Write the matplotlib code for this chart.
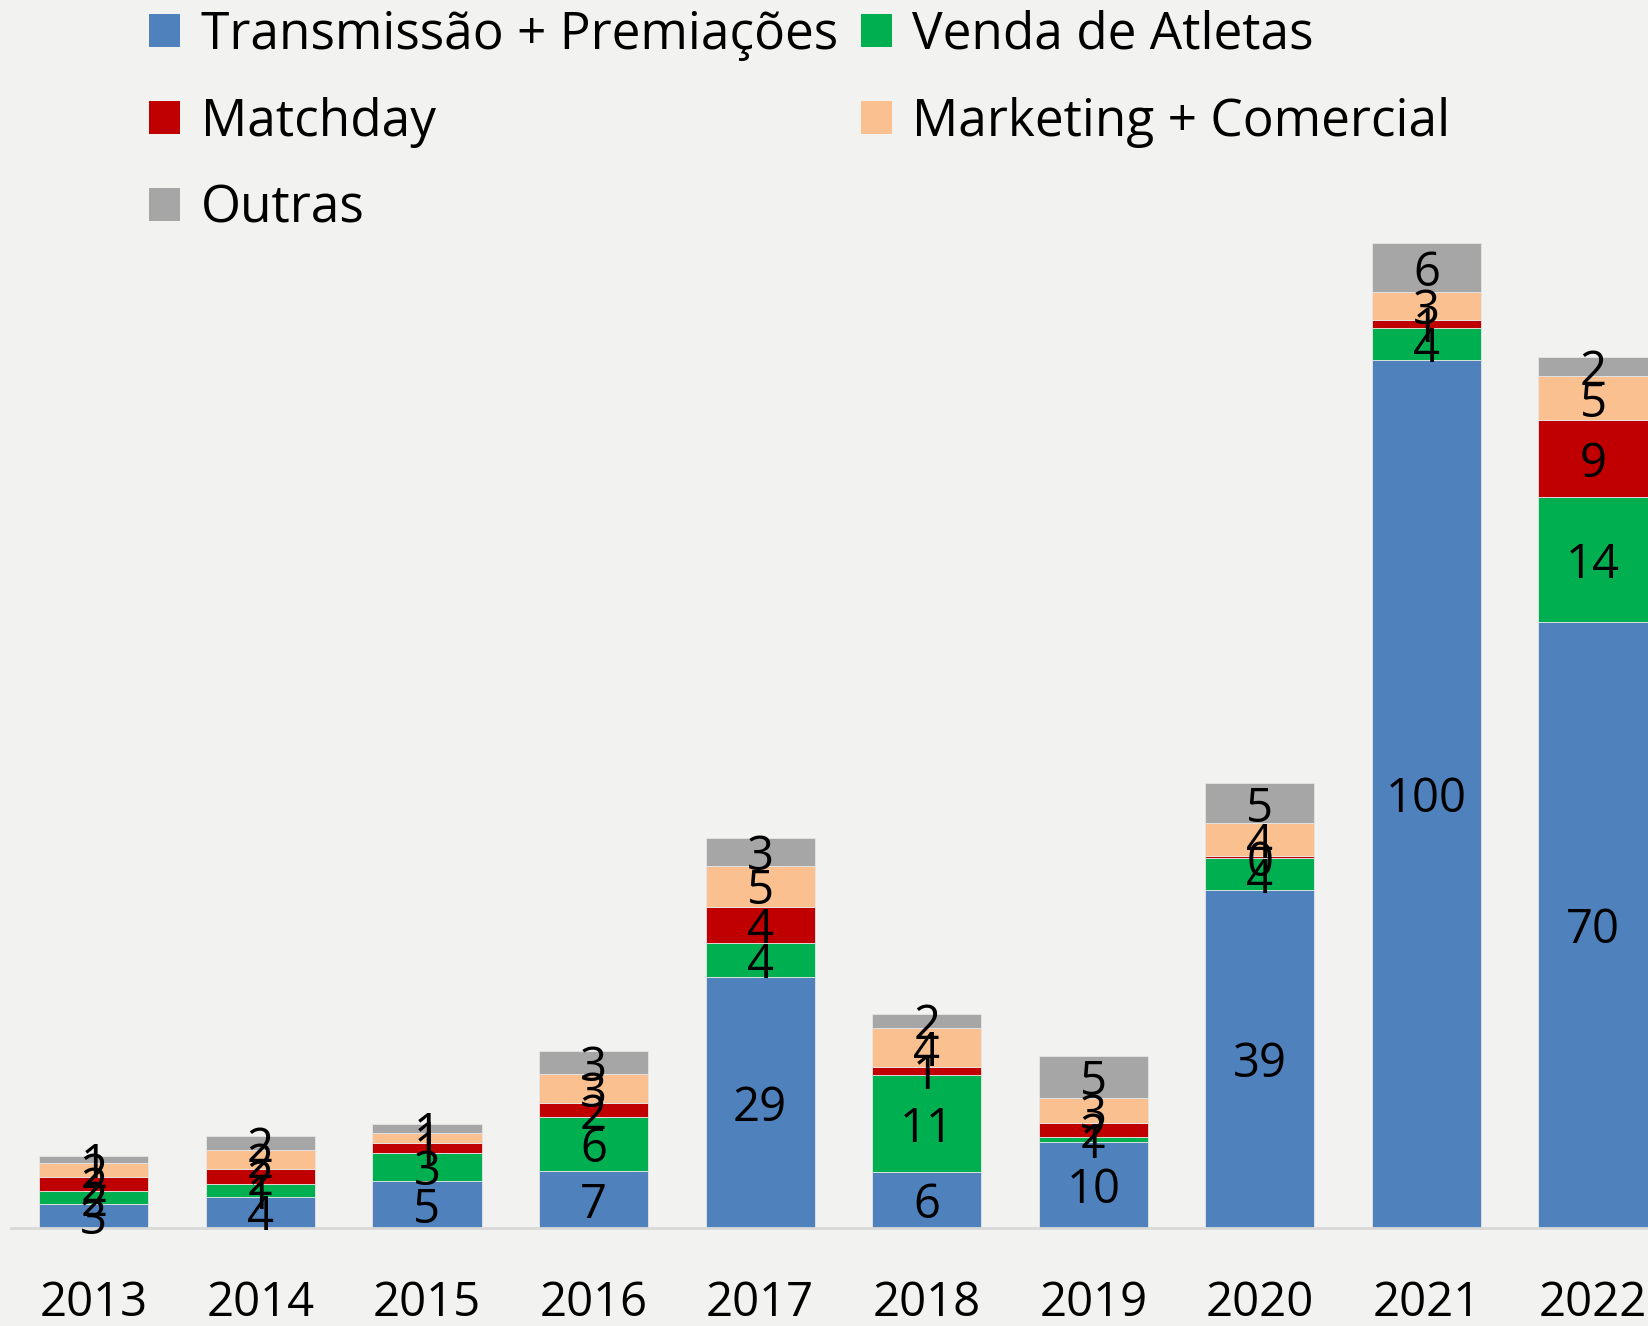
import numpy as np
import matplotlib
matplotlib.use("Agg")
import matplotlib.pyplot as plt
from matplotlib.patches import Patch

plt.rcParams['font.family'] = ['Open Sans', 'DejaVu Sans']

anos = ['2013', '2014', '2015', '2016', '2017', '2018', '2019', '2020', '2021', '2022']

# valores (rotulos arredondados)
transmissao = [2.7, 3.6, 5.35, 6.55, 29.0, 6.4, 9.9, 39.0, 100.2, 70.0]
venda_atletas = [1.57, 1.45, 3.3, 6.2, 3.9, 11.2, 0.6, 3.66, 3.76, 14.4]
matchday = [1.58, 1.7, 1.15, 1.6, 4.2, 1.0, 1.55, 0.27, 0.88, 8.85]
marketing = [1.6, 2.2, 1.1, 3.4, 4.7, 4.45, 2.9, 3.8, 3.27, 5.08]
outras = [0.8, 1.6, 1.05, 2.7, 3.2, 1.65, 4.9, 4.6, 5.6, 2.24]

series = [
    ('Transmissão + Premiações', transmissao, '#4F81BD'),
    ('Venda de Atletas', venda_atletas, '#00B050'),
    ('Matchday', matchday, '#C00000'),
    ('Marketing + Comercial', marketing, '#FAC090'),
    ('Outras', outras, '#A6A6A6'),
]

bg = '#f2f2f1'
fig = plt.figure(figsize=(16.48, 13.26), dpi=100, facecolor=bg)
ax = fig.add_axes([0.0064, 0.0741, 0.9936, 0.9259])
ax.set_facecolor(bg)

x = np.arange(len(anos))
bottom = np.zeros(len(anos))
handles = []
for nome, vals, cor in series:
    vals = np.array(vals)
    ax.bar(x, vals, 0.655, bottom=bottom, color=cor, edgecolor='#e6e6e6', linewidth=0.6, zorder=2)
    for xi, b, v in zip(x, bottom, vals):
        ax.annotate('%.0f' % v, (xi, b + v / 2), xytext=(0, -4), textcoords='offset points',
                    ha='center', va='center', fontsize=34, color='black', zorder=3)
    bottom += vals
    handles.append(Patch(facecolor=cor, label=nome))

ax.set_xlim(-0.5, 9.33)
ax.set_ylim(0, 141.8)
ax.set_xticks(x)
ax.set_xticklabels(anos, fontsize=34)
ax.tick_params(axis='x', length=0, pad=37)
ax.set_yticks([])
for s in ['top', 'right', 'left']:
    ax.spines[s].set_visible(False)
ax.spines['bottom'].set_color('#d9d9d9')
ax.spines['bottom'].set_linewidth(2)

ordem = [handles[0], handles[2], handles[4], handles[1], handles[3]]
leg = fig.legend(handles=ordem, loc='upper left', bbox_to_anchor=(0.075, 1.012), ncol=2,
                 fontsize=37, frameon=False, handlelength=0.6, handleheight=0.6,
                 handletextpad=0.4, columnspacing=0.45, labelspacing=0.7, borderaxespad=0.1)

fig.savefig('out.png', dpi=100, facecolor=bg)
